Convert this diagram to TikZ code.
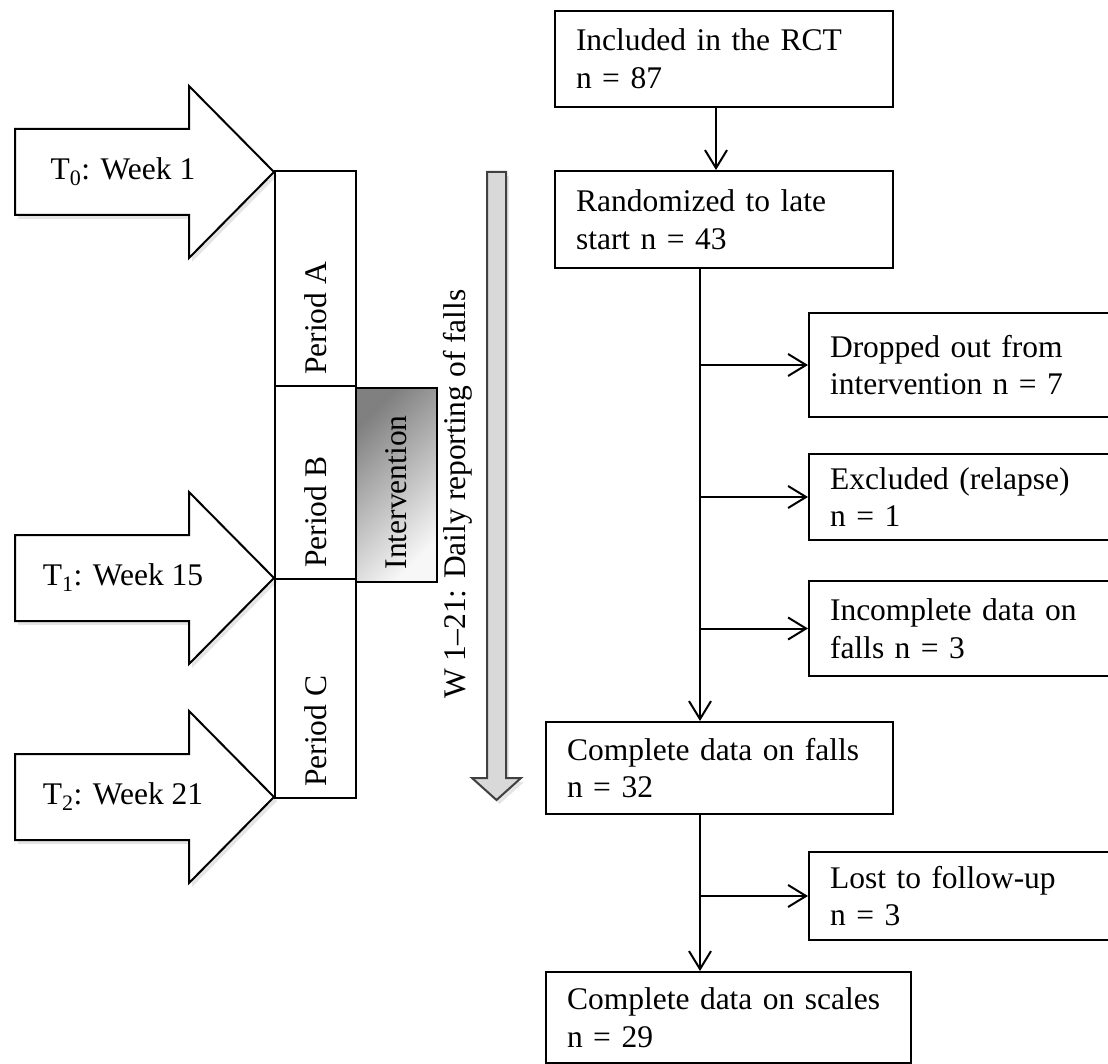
\documentclass[tikz,border=0pt]{standalone}
\usepackage{fontspec}
\setmainfont{Liberation Serif}
\usetikzlibrary{arrows.meta,shadows}

\tikzset{
  flowbox/.style={draw, line width=2pt, anchor=north west, align=left, inner xsep=21pt, inner ysep=2pt},
  arr/.style={line width=2pt, -{Straight Barb[length=18pt,width=22pt]}},
  period/.style={draw, line width=2pt, anchor=north west, minimum width=81pt, inner sep=0pt},
  vtext/.style={rotate=90, inner sep=0pt},
  weekarrow/.style={draw, line width=2pt, fill=white, drop shadow={shadow xshift=3pt, shadow yshift=-4pt, opacity=0.2}},
}

\begin{document}
\begin{tikzpicture}[x=1pt, y=-1pt, font=\fontsize{31.5}{37.7}\selectfont]
    \fill[white] (0,0) rectangle (1108,1064);
    \useasboundingbox (0,0) rectangle (1108,1064);

    % time points
    \foreach \ty/\lab [count=\i from 0] in {172/{T\textsubscript{0}: Week 1}, 578/{T\textsubscript{1}: Week 15}, 797/{T\textsubscript{2}: Week 21}} {
        \draw[weekarrow] (274,\ty) -- ++(-85,-86) -- ++(0,43) -- ++(-174,0) -- ++(0,86) -- ++(174,0) -- ++(0,43) -- cycle;
        \node (wk\i) at (123,\ty) {\lab};
    }

    % periods
    \node[period, minimum height=215pt] (perA) at (274,170) {};
    \node[period, minimum height=193pt] (perB) at (274,385) {};
    \node[period, minimum height=219pt] (perC) at (274,578) {};
    \node[vtext, anchor=west] (labA) at ([yshift=12pt]perA.south) {Period A};
    \node[vtext, anchor=west] (labB) at ([yshift=12pt]perB.south) {Period B};
    \node[vtext, anchor=west] (labC) at ([yshift=12pt]perC.south) {Period C};

    \node[draw, line width=1.5pt, anchor=north west, minimum width=81pt, minimum height=194pt, inner sep=0pt,
          top color=black!50, bottom color=black!3, shading angle=45] (interv) at (355,387) {};
    \node[vtext, anchor=west] (labI) at ([yshift=13pt]interv.south) {Intervention};

    % daily reporting
    \draw[line width=2pt, draw=black!75, fill=black!15, drop shadow={shadow xshift=3pt, shadow yshift=-4pt, opacity=0.2}]
        (487,172) -- (506,172) -- (506,778) -- (521,778) -- (496.5,800) -- (472,778) -- (487,778) -- cycle;
    \node[vtext] (daily) at (458,494) {W 1--21: Daily reporting of falls};

    % flow chart
    \node[flowbox, text width=296pt, minimum height=96pt] (incl) at (554,10) {Included in the RCT\\n = 87};
    \node[flowbox, text width=296pt, minimum height=97pt] (rand) at (554,170) {Randomized to late\\start n = 43};
    \node[flowbox, text width=270pt, minimum height=104pt] (drop) at (808,312) {Dropped out from\\intervention n = 7};
    \node[flowbox, text width=270pt, minimum height=86pt] (excl) at (808,453) {Excluded (relapse)\\n = 1};
    \node[flowbox, text width=270pt, minimum height=95pt] (incmp) at (808,580) {Incomplete data on\\falls n = 3};
    \node[flowbox, text width=305pt, minimum height=92pt] (falls) at (545,721) {Complete data on falls\\n = 32};
    \node[flowbox, text width=270pt, minimum height=88pt] (lost) at (808,851) {Lost to follow-up\\n = 3};
    \node[flowbox, text width=323pt, minimum height=91pt] (scales) at (545,971) {Complete data on scales\\n = 29};

    \coordinate (trunk) at (700,0);
    \draw[arr] ([xshift=-8pt]incl.south) -- ([xshift=-8pt]rand.north);
    \draw[arr] (trunk |- rand.south) -- (trunk |- falls.north);
    \foreach \b in {drop, excl, incmp}
        \draw[arr] (trunk |- \b.west) -- (\b.west);
    \draw[arr] (trunk |- falls.south) -- (trunk |- scales.north);
    \draw[arr] (trunk |- lost.west) -- (lost.west);
\end{tikzpicture}
\end{document}
